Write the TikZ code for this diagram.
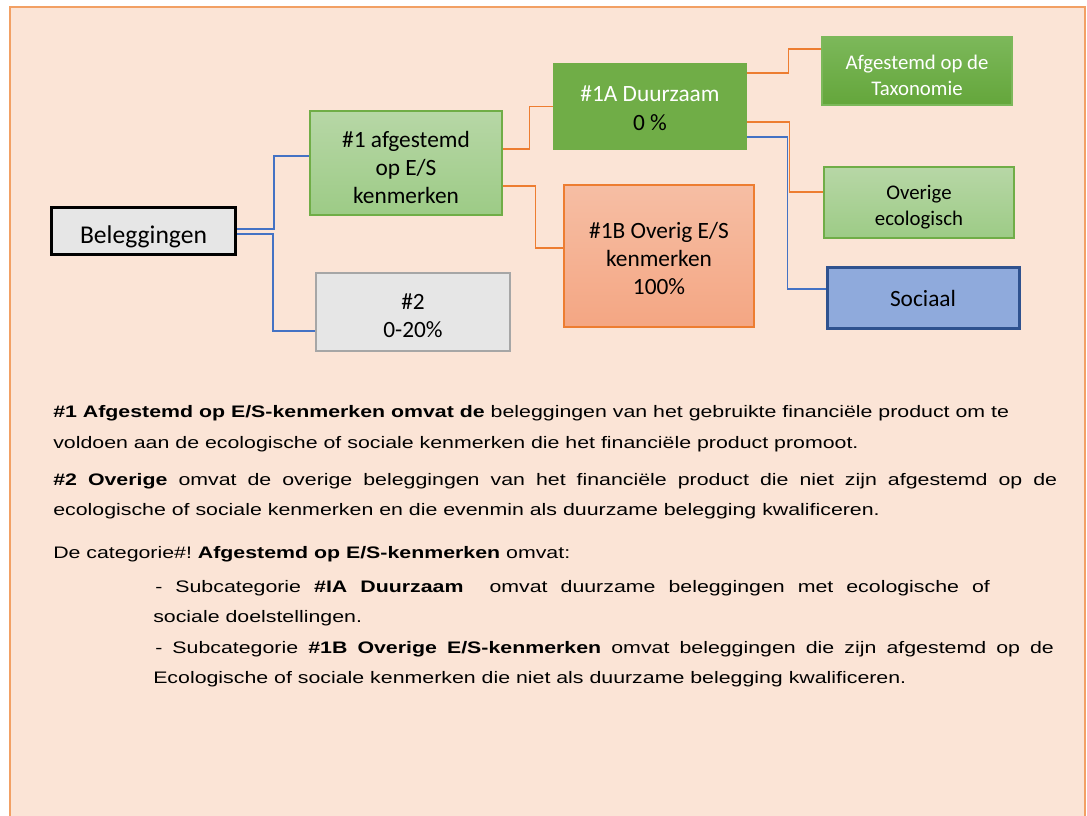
\documentclass[tikz,border=0pt]{standalone}
\usepackage{fontspec}
\usetikzlibrary{positioning}
\newfontfamily\bodyfont[FakeStretch=1.28]{Liberation Sans}
\newfontfamily\boxfont{Carlito}
\newcommand{\boxlift}[1]{\rule{0pt}{#1}}
\definecolor{bg1}{RGB}{251, 228, 214}
\definecolor{frame1}{RGB}{242, 160, 100}
\definecolor{green1}{RGB}{112, 173, 71}
\definecolor{green2}{RGB}{183, 215, 166}
\definecolor{green3}{RGB}{157, 203, 134}
\definecolor{green4}{RGB}{124, 184, 90}
\definecolor{green5}{RGB}{100, 166, 59}
\definecolor{red1}{RGB}{237, 125, 49}
\definecolor{red2}{RGB}{246, 190, 164}
\definecolor{red3}{RGB}{244, 166, 131}
\definecolor{grey1}{RGB}{230, 230, 230}
\definecolor{grey2}{RGB}{166, 166, 166}
\definecolor{blue1}{RGB}{68, 114, 196}
\definecolor{blue2}{RGB}{143, 170, 220}
\definecolor{blue3}{RGB}{47, 82, 143}

\begin{document}
\frenchspacing
\begin{tikzpicture}[x=0.75pt, y=-0.75pt,
  box/.style={rectangle, align=center, inner sep=0pt, font=\boxfont\fontsize{17.5}{21}\selectfont},
  smallbox/.style={box, font=\boxfont\fontsize{15.6}{19.5}\selectfont},
  greenbox/.style={top color=green2, bottom color=green3, draw=green1, line width=1pt},
  link/.style={line width=1pt},
  bodytext/.style={anchor=base west, inner sep=0pt, font=\bodyfont\fontsize{12.5}{15}\selectfont}]
  \useasboundingbox (0,0) rectangle (1087,816);
  \fill[white] (0,0) rectangle (1087,816);
  \draw[fill=bg1, draw=frame1, line width=1.6pt] (10,7) rectangle (1085,850);

  % diagram
  \node[box, fill=grey1, draw=black, line width=2.25pt, minimum width=138pt, minimum height=35.25pt,
        font=\boxfont\fontsize{19.2}{23}\selectfont] (beleg) at (143.5,231) {\boxlift{22pt}Beleggingen};
  \node[box, greenbox, minimum width=144pt, minimum height=78pt] (n1) at (406,163)
        {\boxlift{19.6pt}\#1 afgestemd\\op E/S\\kenmerken};
  \node[box, fill=grey1, draw=grey2, line width=1pt, minimum width=145.5pt, minimum height=58.5pt] (n2) at (413,312)
        {\boxlift{18pt}\#2\\0-20\%};
  \node[box, fill=green1, minimum width=145.5pt, minimum height=65.25pt] (n1a) at (650,106.5)
        {\boxlift{14.3pt}\textcolor{white}{\#1A Duurzaam}\\[1pt]0 \%};
  \node[box, top color=red2, bottom color=red3, draw=red1, line width=1.2pt,
        minimum width=142.5pt, minimum height=106.5pt] (n1b) at (659,256)
        {\boxlift{15.9pt}\#1B Overig E/S\\kenmerken\\100\%};
  \node[smallbox, top color=green4, bottom color=green5, draw=green4, line width=1pt,
        minimum width=142.5pt, minimum height=51pt, text=white] (tax) at (917,71)
        {\boxlift{16.8pt}Afgestemd op de\\Taxonomie};
  \node[smallbox, greenbox, minimum width=142.5pt, minimum height=53.25pt] (ovr) at (919,202.5)
        {\boxlift{17.8pt}Overige\\ecologisch};
  \node[box, fill=blue2, draw=blue3, line width=2.25pt, minimum width=144pt, minimum height=45pt] (soc) at (923,298)
        {Sociaal};

  \foreach \from/\fs/\to/\ts/\dx/\col in {beleg/1.5/n1/5.25/37/blue1, beleg/-2.25/n2/-14.25/36/blue1,
      n1/10.5/n1a/0/27/red1, n1/-17.25/n1b/6/33/red1,
      n1a/25/tax/16.5/41/red1, n1a/-11.6/ovr/7.9/42/red1, n1a/-22.9/soc/6.75/40/blue1}
    \draw[link, draw=\col] ([yshift=\fs pt]\from.east) -- ++(\dx,0) |- ([yshift=\ts pt]\to.west);

  % text below
  \node[bodytext] (txt1) at (53,417) {\textbf{\#1 Afgestemd op E/S-kenmerken omvat de} beleggingen van het gebruikte financiële product om te};
  \node[bodytext] (txt2) at (53,448) {voldoen aan de ecologische of sociale kenmerken die het financiële product promoot.};
  \node[bodytext] (txt3) at (53,485) {\makebox[753pt][s]{\textbf{\#2 Overige} omvat de overige beleggingen van het financiële product die niet zijn afgestemd op de}};
  \node[bodytext] (txt4) at (53,515) {ecologische of sociale kenmerken en die evenmin als duurzame belegging kwalificeren.};
  \node[bodytext] (txt5) at (53,558) {De categorie\#! \textbf{Afgestemd op E/S-kenmerken} omvat:};
  \node[bodytext] (txt6) at (155,592) {\makebox[626pt][s]{- Subcategorie \textbf{\#IA Duurzaam} \ omvat duurzame beleggingen met ecologische of}};
  \node[bodytext] (txt7) at (153,622) {sociale doelstellingen.};
  \node[bodytext] (txt8) at (155,653) {\makebox[674pt][s]{- Subcategorie \textbf{\#1B Overige E/S-kenmerken} omvat beleggingen die zijn afgestemd op de}};
  \node[bodytext] (txt9) at (153,683) {Ecologische of sociale kenmerken die niet als duurzame belegging kwalificeren.};
\end{tikzpicture}
\end{document}
